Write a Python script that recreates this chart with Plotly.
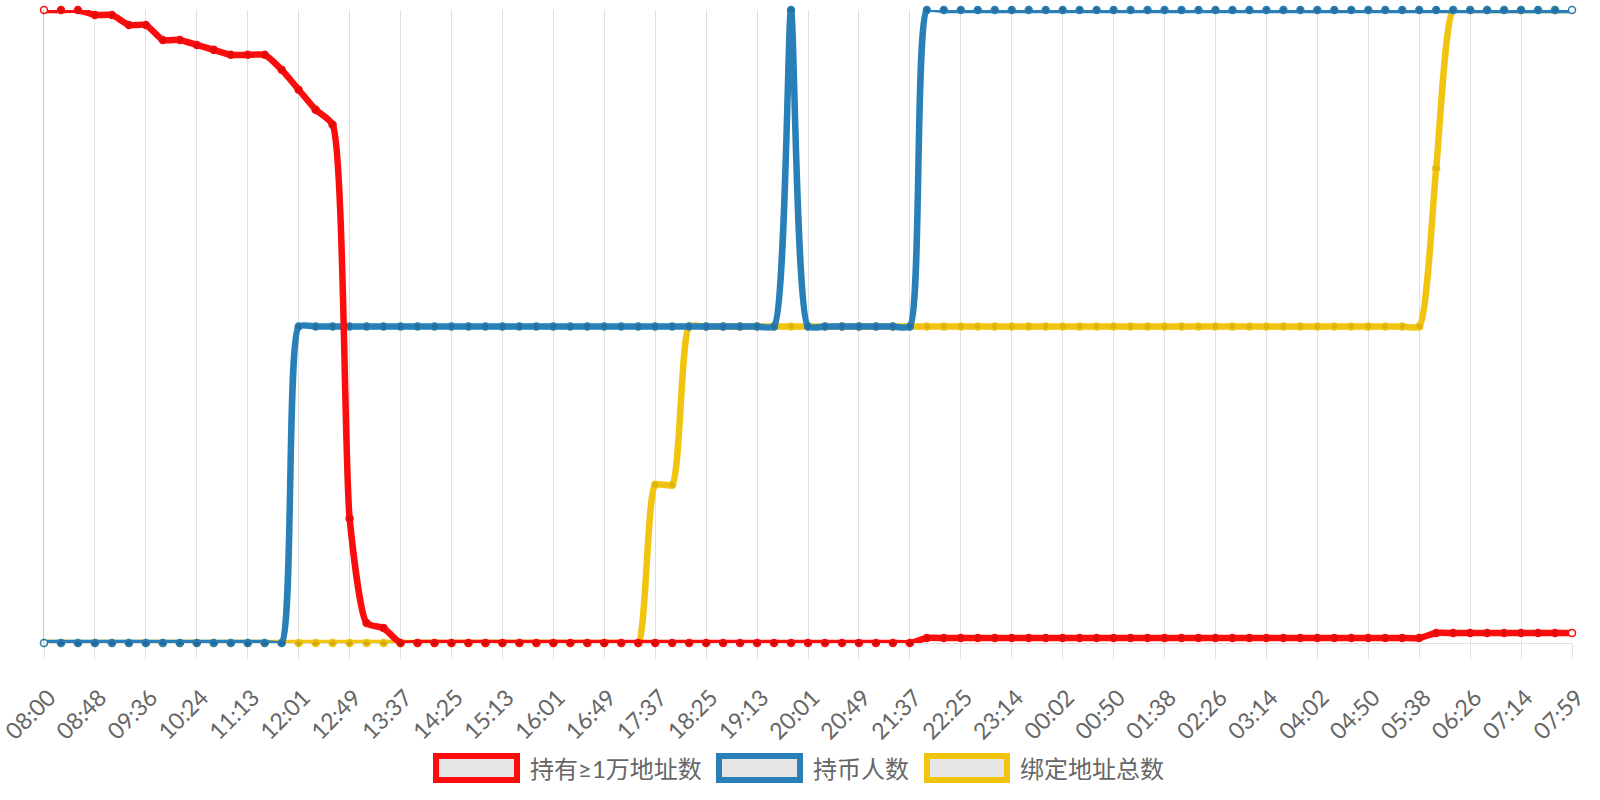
import plotly.graph_objects as go

# etiquetas del eje x (una cada 3 muestras)
tick_labels = ["08:00", "08:48", "09:36", "10:24", "11:13", "12:01", "12:49", "13:37",
               "14:25", "15:13", "16:01", "16:49", "17:37", "18:25", "19:13", "20:01",
               "20:49", "21:37", "22:25", "23:14", "00:02", "00:50", "01:38", "02:26",
               "03:14", "04:02", "04:50", "05:38", "06:26", "07:14", "07:59"]

# series (91 muestras)
holders_10k = ([127, 127, 127, 126, 126, 124, 124, 121, 121, 120, 119, 118, 118, 118,
                115, 111, 107, 104, 25, 4, 3] + [0] * 31 + [1] * 30 + [2] * 9)
holders = [0] * 15 + [1] * 29 + [2] + [1] * 7 + [2] * 39
bound_addr = [0] * 36 + [1, 1] + [2] * 44 + [3] + [4] * 8

names = ["持有≥1万地址数", "持币人数", "绑定地址总数"]
colors = ["#fb0d0d", "#2980b9", "#f1c40f"]
dot_colors = ["#e00b0b", "#2470a3", "#ddb30c"]

x = list(range(len(holders)))

fig = go.Figure()


def add_line(vals, color, dot, axis):
    n = len(vals)
    fills = ["white" if i in (0, n - 1) else dot for i in range(n)]
    fig.add_trace(go.Scatter(
        x=x, y=vals, yaxis=axis, mode="lines+markers",
        line=dict(color=color, width=6.5, shape="spline", smoothing=0.55),
        marker=dict(size=7, color=fills, line=dict(color=color, width=1.5)),
        cliponaxis=False, showlegend=False, hoverinfo="y"
    ))


# orden de dibujo: amarillo abajo, rojo arriba
add_line(bound_addr, colors[2], dot_colors[2], "y")
add_line(holders, colors[1], dot_colors[1], "y2")
add_line(holders_10k, colors[0], dot_colors[0], "y3")

grid = "rgba(0,0,0,0.12)"
fig.update_layout(
    width=1600, height=800,
    margin=dict(l=44, r=28, t=10, b=157),
    paper_bgcolor="white", plot_bgcolor="white",
    font=dict(family="Lato, Noto Sans CJK SC", color="#666666"),
    xaxis=dict(range=[0, len(x) - 1], tickmode="array", automargin=False,
               tickvals=x[::3], ticktext=tick_labels, tickangle=-45,
               tickfont=dict(size=23, color="#666666"),
               ticklabelstandoff=16, ticklabelshift=5, ticklabeloverflow="allow",
               showgrid=True, gridcolor=grid, gridwidth=1,
               ticks="outside", ticklen=15, tickcolor=grid,
               showline=True, linecolor=grid, zeroline=False),
    yaxis=dict(range=[min(bound_addr), max(bound_addr)], showticklabels=False,
               showgrid=False, zeroline=False, showline=True, automargin=False,
               linecolor="rgba(0,0,0,0.22)", ticks=""),
    yaxis2=dict(range=[min(holders), max(holders)], overlaying="y", visible=False),
    yaxis3=dict(range=[min(holders_10k), max(holders_10k)], overlaying="y", visible=False),
)

# leyenda estilo caja
box_x = [(436, 517), (719, 800), (927, 1007)]
text_x = [528, 811, 1018]
W, L, B, T = 1600, 44, 157, 10
pw, ph = W - L - 28, 800 - T - B


def px(v):
    return (v - L) / pw


def py(v):
    return (800 - B - v) / ph


for i in range(3):
    fig.add_shape(type="rect", xref="paper", yref="paper",
                  x0=px(box_x[i][0]), x1=px(box_x[i][1]), y0=py(780), y1=py(756),
                  line=dict(color=colors[i], width=6), fillcolor="#e6e6e6")
    fig.add_annotation(xref="paper", yref="paper", x=px(text_x[i]), y=py(768),
                       text=names[i], showarrow=False, xanchor="left", yanchor="middle",
                       font=dict(size=24, color="#666666"))

# quitar el margen por defecto del body
fig.write_html("out.html", config={"displayModeBar": False},
               post_script="document.body.style.margin='0px';")
